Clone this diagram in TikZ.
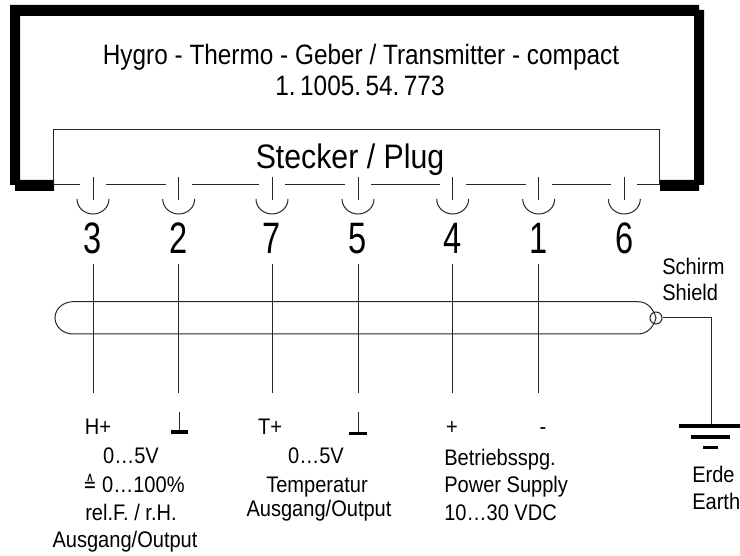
\documentclass[tikz,border=0pt]{standalone}
\usepackage{fontspec}
\setmainfont[FakeStretch=0.89]{Liberation Sans}
\newfontfamily\digitfont[FakeStretch=0.74]{Liberation Sans}
\newfontfamily\titlefont[FakeStretch=0.87]{Liberation Sans}
\newfontfamily\symfont[FakeStretch=0.7]{DejaVu Sans}
\tikzset{
  thin line/.style={draw=black!85,line width=0.75pt},
  heavy/.style={fill=black,draw=none},
  lab/.style={inner sep=0pt,anchor=base,font=\fontsize{16.9}{16.9}\selectfont},
  labl/.style={lab,anchor=base west},
  title/.style={inner sep=0pt,anchor=base,font=\titlefont\fontsize{21}{21}\selectfont},
  plug/.style={inner sep=0pt,anchor=base,font=\fontsize{25.5}{25.5}\selectfont},
  pinno/.style={inner sep=0pt,anchor=base,font=\digitfont\fontsize{33}{33}\selectfont},
}
\begin{document}
\begin{tikzpicture}[x=0.75pt,y=-0.75pt]
\useasboundingbox (0,0) rectangle (740,556);
% housing
\fill[heavy] (10,5) -- (699,5) -- (699,10) -- (704,10) -- (704,185) -- (699,185) -- (699,191) -- (660,191) -- (660,180) -- (694,180) -- (694,16) -- (20,16) -- (20,180) -- (54,180) -- (54,191) -- (15,191) -- (15,185) -- (10,185) -- cycle;
\node[title] (t1) at (361,65) {Hygro - Thermo - Geber / Transmitter - compact};
\node[title] (t2) at (360,96) {1.\hspace{0.16em}1005.\hspace{0.16em}54.\hspace{0.16em}773};
\node[plug] (plug) at (350,169) {Stecker / Plug};
% plug outline
\coordinate (bl) at (53,185);
\coordinate (tl) at (53,129.5);
\coordinate (tr) at (659.5,129.5);
\coordinate (br) at (659.5,185);
\foreach \n/\x in {3/93,2/178.7,7/272,5/358,4/452.7,1/538.7,6/624.3}{
  \coordinate (gl\n) at (\x-13,185);
  \coordinate (gr\n) at (\x+13,185);
  \coordinate (pt\n) at (\x,177);
  \coordinate (pb\n) at (\x,200);
  \coordinate (al\n) at (\x-16,199);
  \node[pinno] (no\n) at (\x,254) {\n};
  \draw[thin line] (pt\n) -- (pb\n);
  \draw[thin line] (al\n) arc[start angle=180,end angle=0,x radius=16,y radius=15];
}
\draw[thin line] (gl3) -- (bl) -- (tl) -- (tr) -- (br) -- (gr6);
\draw[thin line] (gr3) -- (gl2) (gr2) -- (gl7) (gr7) -- (gl5) (gr5) -- (gl4) (gr4) -- (gl1) (gr1) -- (gl6);
% cable
\node[circle,draw=black!85,line width=0.75pt,minimum size=12pt*0.75,inner sep=0pt] (shieldc) at (656,318) {};
\draw[thin line] (638,301.7) -- (73,301.7) arc[start angle=270,end angle=90,x radius=18,y radius=16.15] -- (638,334) .. controls (648,334) and (654,326) .. (656,318) .. controls (654,310) and (648,301.7) .. (638,301.7);
% wires
\foreach \n/\x in {3/93,2/178.7,7/272,5/358,4/452.7,1/538.7}{
  \coordinate (wt\n) at (\x,264);
  \coordinate (wb\n) at (\x,393);
  \draw[thin line] (wt\n) -- (wb\n);
}
% shield to earth
\coordinate (corner) at (711,318);
\coordinate (gnd) at (711,425);
\draw[thin line] (shieldc.east) -- (corner) -- (gnd);
\fill[heavy] (679,424) rectangle (740,428);
\fill[heavy] (691,435) rectangle (730,439);
\fill[heavy] (703,445.5) rectangle (718,448.5);
% signal grounds
\coordinate (g1t) at (179,412);
\coordinate (g1b) at (179,431);
\draw[thin line] (g1t) -- (g1b);
\fill[heavy] (171,430) rectangle (188,434);
\coordinate (g2t) at (358,412);
\coordinate (g2b) at (358,432);
\draw[thin line] (g2t) -- (g2b);
\fill[heavy] (349,432) rectangle (367,434.5);
% labels
\node[lab] (h) at (98,435) {H+};
\node[lab] (a1) at (131,464) {0…5V};
\node[lab] (a2) at (134,492) {{\symfont ≙} 0…100\%};
\node[lab] (a3) at (131,520) {rel.F. / r.H.};
\node[lab] (a4) at (125,547) {Ausgang/Output};
\node[lab] (tp) at (270,435) {T+};
\node[lab] (b1) at (316,464) {0…5V};
\node[lab] (b2) at (317,492) {Temperatur};
\node[lab] (b3) at (319,516) {Ausgang/Output};
\node[lab] (pl) at (452,435) {+};
\node[lab] (mi) at (543,435) {-};
\node[labl] (c1) at (444,465) {Betriebsspg.};
\node[labl] (c2) at (444,492) {Power Supply};
\node[labl] (c3) at (444,520) {10…30 VDC};
\node[labl] (e1) at (692,482) {Erde};
\node[labl] (e2) at (692,509) {Earth};
\node[labl] (s1) at (662,275) {Schirm};
\node[labl] (s2) at (662,301) {Shield};
\end{tikzpicture}
\end{document}
